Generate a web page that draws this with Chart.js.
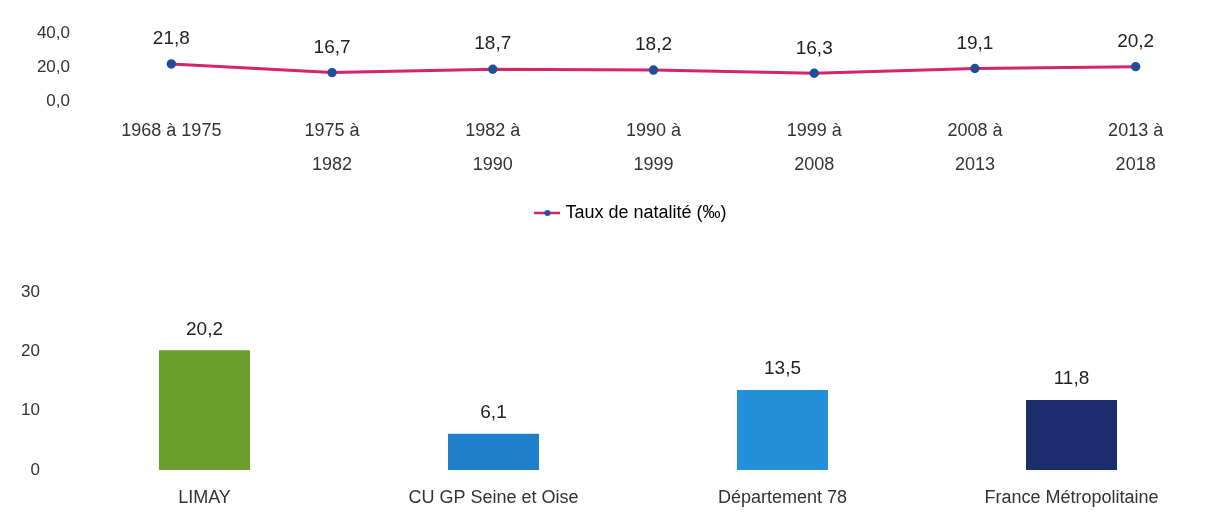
<!DOCTYPE html>
<html><head><meta charset="utf-8">
<script src="https://cdn.jsdelivr.net/npm/chart.js@4"></script>
<style>
html,body{margin:0;padding:0;background:#fff;width:1223px;height:527px;overflow:hidden}
#c1{position:absolute;left:0;top:0}
#c2{position:absolute;left:0;top:262px}
</style></head><body>
<canvas id="c1" width="1223" height="250"></canvas>
<canvas id="c2" width="1223" height="265"></canvas>
<script>
const periods = [["1968 à 1975"],["1975 à","1982"],["1982 à","1990"],["1990 à","1999"],["1999 à","2008"],["2008 à","2013"],["2013 à","2018"]];
const natalite = [21.8,16.7,18.7,18.2,16.3,19.1,20.2];
const lineTicks = [0,20,40];
const territories = ["LIMAY","CU GP Seine et Oise","Département 78","France Métropolitaine"];
const territoryValues = [20.2,6.1,13.5,11.8];
const barColors = ["#6b9e2c","#1f7fca","#2590da","#1c2d6e"];
const barTicks = [0,10,20,30];

const FONT = "'Liberation Sans',Arial,sans-serif";
Chart.defaults.font.family = FONT;
Chart.defaults.color = "#333";
Chart.defaults.animation = false;

const fmt = v => Number(v).toFixed(1).replace('.', ',');

const valueLabels = (offset, size) => ({
  id: 'valueLabels',
  afterDatasetsDraw(chart) {
    const ctx = chart.ctx;
    const meta = chart.getDatasetMeta(0);
    ctx.save();
    ctx.font = size + "px " + FONT;
    ctx.fillStyle = "#222";
    ctx.textAlign = "center";
    ctx.textBaseline = "middle";
    meta.data.forEach((el, i) => {
      const v = chart.data.datasets[0].data[i];
      ctx.fillText(fmt(v), el.x, el.y - offset);
    });
    ctx.restore();
  }
});

// shift the legend box to the right, as in the original
const legendShift = {
  id: 'legendShift',
  afterLayout(chart) {
    if (chart.legend) { chart.legend.left += 20; chart.legend.right += 20; }
  }
};

// legend icon: line with dot
const icon = document.createElement('canvas');
icon.width = 26; icon.height = 10;
(function(){
  const c = icon.getContext('2d');
  c.strokeStyle = "#d4246a"; c.lineWidth = 2.5;
  c.beginPath(); c.moveTo(0,5); c.lineTo(26,5); c.stroke();
  c.fillStyle = "#1f4f9c";
  c.beginPath(); c.arc(13,5,3,0,Math.PI*2); c.fill();
})();

new Chart(document.getElementById('c1'), {
  type: 'line',
  data: {
    labels: periods,
    datasets: [{
      label: 'Taux de natalité (‰)',
      data: natalite,
      borderColor: '#d4246a',
      borderWidth: 3,
      pointBackgroundColor: '#1f4f9c',
      pointBorderColor: '#1f4f9c',
      pointRadius: 3.2,
      pointStyle: 'circle',
      tension: 0
    }]
  },
  options: {
    responsive: false,
    layout: { padding: { top: 33, left: 6, right: 4, bottom: 18 } },
    plugins: {
      tooltip: { enabled: false },
      legend: {
        position: 'bottom',
        labels: {
          usePointStyle: true,
          pointStyle: icon,
          font: { size: 18 },
          color: '#333',
          padding: 10,
          generateLabels: (chart) => [{ text: chart.data.datasets[0].label, pointStyle: icon, fillStyle: '#d4246a', strokeStyle: '#d4246a', lineWidth: 0, datasetIndex: 0 }]
        }
      }
    },
    scales: {
      x: {
        offset: true,
        grid: { display: false, drawTicks: false },
        border: { display: false },
        ticks: { font: { size: 18, lineHeight: 1.9 }, color: '#333', padding: 13, maxRotation: 0, autoSkip: false },
        afterFit: s => { s.height = 93; }
      },
      y: {
        min: 0, max: 40,
        afterBuildTicks: s => { s.ticks = lineTicks.map(v => ({ value: v })); },
        grid: { display: false, drawTicks: false },
        border: { display: false },
        ticks: { font: { size: 17 }, color: '#333', padding: 21, callback: v => fmt(v) },
        afterFit: s => { s.width = 85; }
      }
    }
  },
  plugins: [valueLabels(25, 19), legendShift]
});

new Chart(document.getElementById('c2'), {
  type: 'bar',
  data: {
    labels: territories,
    datasets: [{
      data: territoryValues,
      backgroundColor: barColors,
      borderWidth: 0,
      barPercentage: 0.315,
      categoryPercentage: 1
    }]
  },
  options: {
    responsive: false,
    layout: { padding: { top: 30, left: 2, right: 7, bottom: 0 } },
    plugins: { tooltip: { enabled: false }, legend: { display: false } },
    scales: {
      x: {
        grid: { display: false, drawTicks: false },
        border: { display: false },
        ticks: { font: { size: 18 }, color: '#333', padding: 17, maxRotation: 0, autoSkip: false },
        afterFit: s => { s.height = 57; }
      },
      y: {
        min: 0, max: 30,
        afterBuildTicks: s => { s.ticks = barTicks.map(v => ({ value: v })); },
        grid: { display: false, drawTicks: false },
        border: { display: false },
        ticks: { font: { size: 17 }, color: '#333', padding: 20 },
        afterFit: s => { s.width = 58; }
      }
    }
  },
  plugins: [valueLabels(21, 19)]
});
</script>
</body></html>
